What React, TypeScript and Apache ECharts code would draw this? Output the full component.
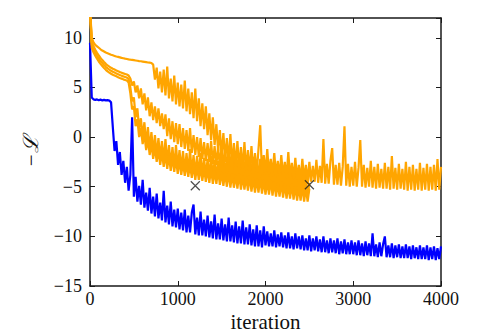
import React, { useEffect, useRef } from 'react';
import * as echarts from 'echarts';

// iteration spacing of the sampled values
const STEP = 20;

// blue run: 0..4000 (201 samples)
const blueRun = [
  9.5, 4.0, 3.8, 3.75, 3.8, 3.72, 3.78, 3.7, 3.75, 3.7,
  3.72, 3.68, 3.5, 1.0, -1.4, -0.4, -2.8, -1.5, -3.8, -2.4,
  -4.6, -3.0, -5.4, -3.8, 2.0, -6.0, -4.0, -6.5, -4.9, -6.8,
  -4.3, -7.1, -5.6, -7.4, -5.1, -7.7, -6.0, -8.0, -5.7, -8.2,
  -6.6, -8.4, -5.4, -8.6, -6.9, -8.8, -6.5, -9.0, -7.3, -9.1,
  -7.2, -9.3, -7.6, -9.4, -7.3, -9.6, -7.9, -9.6, -7.6, -6.8,
  -9.8, -8.1, -9.9, -7.5, -9.9, -8.3, -10.0, -7.9, -10.1, -8.5,
  -10.2, -7.8, -10.3, -8.7, -10.3, -8.2, -10.4, -8.8, -10.5, -8.1,
  -10.5, -8.9, -10.6, -8.5, -10.7, -9.0, -10.7, -8.4, -10.8, -9.1,
  -10.8, -8.8, -10.9, -9.3, -11.0, -8.9, -11.0, -9.4, -11.1, -9.0,
  -10.9, -9.5, -11.0, -9.7, -11.0, -9.4, -11.1, -9.8, -11.0, -9.6,
  -11.1, -9.9, -11.2, -9.6, -11.2, -10.0, -11.3, -9.7, -11.2, -10.0,
  -11.3, -9.9, -11.4, -10.2, -11.4, -9.9, -11.5, -10.2, -11.4, -10.0,
  -11.5, -10.3, -11.6, -10.0, -11.6, -10.4, -11.7, -10.2, -11.6, -10.4,
  -11.7, -10.2, -11.8, -10.5, -11.7, -10.3, -11.8, -10.6, -11.8, -10.4,
  -11.8, -10.6, -11.9, -10.4, -11.9, -10.7, -12.0, -10.5, -11.9, -10.7,
  -12.0, -9.7, -12.0, -10.8, -12.1, -10.6, -12.0, -10.8, -10.0, -12.1,
  -10.9, -12.1, -10.7, -12.2, -10.9, -12.1, -10.8, -12.2, -11.0, -12.2,
  -10.8, -12.2, -11.0, -12.3, -10.9, -12.2, -11.1, -12.3, -10.9, -12.3,
  -11.1, -12.3, -10.9, -12.4, -11.1, -12.3, -11.0, -12.4, -11.2, -12.3,
  -11.0,
];

// orange run that continues to 4000 (201 samples)
const orangeLong = [
  13, 10.0, 9.55, 9.3, 9.15, 9.0, 8.85, 8.72, 8.62, 8.52,
  8.45, 8.38, 8.3, 8.24, 8.18, 8.12, 8.08, 8.03, 7.98, 7.94,
  7.9, 7.87, 7.83, 7.8, 7.78, 7.75, 7.72, 7.69, 7.66, 7.64,
  7.61, 7.58, 7.55, 7.52, 7.5, 7.47, 7.3, 5.8, 7.0, 4.9,
  6.6, 4.5, 6.8, 4.2, 7.1, 3.9, 5.9, 3.6, 6.2, 3.3,
  5.5, 3.1, 5.3, 2.9, 5.7, 2.6, 4.9, 2.3, 4.5, 1.9,
  4.9, 1.6, 3.9, 1.1, 3.4, 0.8, 3.1, 0.2, 2.4, -0.3,
  2.0, -0.8, 1.3, -1.4, 0.7, -1.9, 0.4, -2.3, -0.1, -2.6,
  0.3, -2.9, -0.6, -3.0, -0.4, -3.2, -1.0, -3.3, -0.5, -3.4,
  -1.3, -3.5, -0.9, -3.6, -1.6, -3.7, -1.2, 1.2, -3.8, -1.8,
  -3.7, -1.2, -3.7, -2.2, -3.8, -1.6, -3.9, -2.4, -3.9, -1.8,
  -4.0, -2.5, -4.1, -1.5, -4.1, -2.6, -4.2, -2.1, -4.2, -2.8,
  -4.3, -2.2, -4.3, -2.8, -4.4, -2.5, -4.5, -2.9, -4.5, -2.3,
  -4.6, -2.9, -4.6, -0.2, -4.7, -2.7, -4.7, -2.4, -1.1, -4.8,
  -2.8, -4.8, -2.6, -4.9, -3.0, 1.1, -4.9, -2.7, -5.0, -3.0,
  -4.9, -2.5, -5.0, -3.1, -0.3, -5.0, -2.8, -5.1, -3.1, -5.0,
  -2.4, -5.1, -3.0, -5.2, -2.7, -5.1, -3.2, -5.2, -2.6, -5.2,
  -3.0, -5.3, -1.9, -5.2, -3.1, -5.3, -2.7, -5.2, -3.2, -5.3,
  -2.5, -5.4, -3.0, -5.3, -2.8, -5.4, -3.2, -5.3, -2.6, -5.4,
  -3.1, -5.3, -2.7, -5.4, -3.0, -5.3, -2.8, -5.4, -2.2, -5.3,
  -3.0,
];

// three orange runs stopping at 2500 (126 samples each)
const orangeShort1 = [
  13, 9.6, 9.15, 8.8, 8.5, 8.22, 7.98, 7.76, 7.56, 7.38,
  7.22, 7.1, 6.98, 6.88, 6.8, 6.72, 6.64, 6.56, 6.49, 6.42,
  6.36, 6.3, 6.2, 5.9, 5.2, 5.6, 4.5, 5.2, 3.9, 4.9,
  3.3, 4.4, 2.7, 4.0, 2.1, 3.5, 1.7, 3.1, 1.4, 2.9,
  1.1, 2.4, 0.8, 2.3, 0.1, 1.9, -0.2, 1.6, -0.5, 1.4,
  -0.7, 1.3, -1.0, 0.9, -1.2, 0.7, -1.4, 0.9, -1.6, 0.2,
  -1.8, 0.0, -2.0, -0.1, -2.2, -0.5, -2.4, -0.6, -2.5, -0.4,
  -2.7, -0.9, -2.8, -1.0, -3.0, -0.8, -3.1, -1.3, -3.2, -1.4,
  -3.3, -1.2, -3.4, -1.7, -3.5, -1.6, -3.6, -1.9, -3.7, -1.8,
  -3.8, -2.1, -3.9, -2.0, -4.0, -2.3, -4.1, -2.2, -4.2, -2.5,
  -3.9, -2.4, -4.0, -2.7, -4.1, -2.6, -4.2, -2.8, -4.2, -2.7,
  -4.3, -3.0, -4.4, -2.9, -4.4, -3.1, -4.5, -3.0, -4.5, -3.2,
  -4.6, -3.1, -4.7, -3.3, -4.7, -3.6,
];

const orangeShort2 = [
  13, 9.3, 8.85, 8.5, 8.2, 7.92, 7.68, 7.46, 7.26, 7.08,
  6.92, 6.8, 6.68, 6.58, 6.5, 6.42, 6.34, 6.26, 6.19, 6.12,
  6.06, 6.0, 5.85, 5.0, 3.6, 4.0, 2.0, 2.9, 0.8, 1.9,
  0.0, 1.5, -0.7, 1.0, -1.2, 0.5, -1.6, 0.2, -1.9, -0.1,
  -2.2, -0.4, -2.5, -0.2, -2.7, -0.8, -2.9, -1.0, -3.1, -0.8,
  -3.2, -1.3, -3.3, -1.4, -3.5, -1.6, -3.6, -1.2, -3.7, -1.8,
  -3.8, -1.9, -3.9, -1.6, -4.0, -2.1, -4.0, -2.2, -4.1, -1.9,
  -4.2, -2.3, -4.2, -2.4, -4.3, -2.1, -4.4, -2.6, -4.4, -2.5,
  -4.5, -2.7, -4.6, -2.6, -4.6, -2.8, -4.7, -2.7, -4.8, -3.0,
  -4.9, -2.9, -4.9, -3.1, -5.0, -3.0, -5.1, -3.2, -5.1, -3.1,
  -5.2, -3.3, -5.3, -3.4, -5.3, -3.3, -5.4, -3.6, -5.5, -3.5,
  -5.5, -3.7, -5.6, -3.6, -5.7, -3.8, -5.7, -3.7, -5.8, -3.9,
  -5.8, -3.8, -5.9, -4.0, -6.0, -4.6,
];

const orangeShort3 = [
  13, 9.0, 8.55, 8.2, 7.9, 7.62, 7.38, 7.16, 6.96, 6.78,
  6.62, 6.5, 6.38, 6.28, 6.2, 6.12, 6.04, 5.96, 5.89, 5.82,
  5.76, 5.7, 5.5, 4.4, 2.8, 3.1, 1.1, 1.8, 0.0, 0.9,
  -0.7, 0.3, -1.3, -0.2, -1.8, -0.6, -2.2, -1.0, -2.5, -1.3,
  -2.8, -1.5, -3.0, -1.7, -3.2, -1.9, -3.4, -2.0, -3.5, -2.2,
  -3.7, -2.3, -3.8, -2.5, -3.9, -2.6, -4.0, -2.7, -4.1, -2.8,
  -4.3, -2.9, -4.3, -3.0, -4.4, -3.1, -4.5, -3.2, -4.6, -3.1,
  -4.7, -3.4, -4.7, -3.3, -4.8, -3.5, -4.9, -3.6, -5.0, -3.5,
  -5.1, -3.7, -5.1, -3.8, -5.2, -3.7, -5.3, -3.9, -5.3, -4.0,
  -5.4, -3.9, -5.5, -4.1, -5.6, -4.2, -5.6, -4.1, -5.7, -4.3,
  -5.8, -4.4, -5.8, -4.3, -5.9, -4.5, -6.0, -4.6, -6.0, -4.5,
  -6.1, -4.7, -6.2, -4.8, -6.2, -4.7, -6.3, -4.9, -6.4, -5.0,
  -6.4, -4.9, -6.5, -5.1, -6.5, -5.2,
];

const markerIters = [1200, 2500];
const markerValues = [-4.9, -4.8];

const X_MIN = 0;
const X_MAX = 4000;
const X_INTERVAL = 1000;
const Y_MIN = -15;
const Y_MAX = 12;
const Y_INTERVAL = 5;

const FONT = '"Liberation Serif", "DejaVu Serif", serif';
const AXIS_COLOR = '#1a1a1a';

const toPairs = (vals: number[]) => vals.map((v, i) => [i * STEP, v]);
const fmt = (v: number) => (v < 0 ? '\u2212' + Math.abs(v) : String(v));

export default function App() {
  const ref = useRef<HTMLDivElement>(null);

  useEffect(() => {
    if (!ref.current) return;
    const chart = echarts.init(ref.current, undefined, { renderer: 'svg' });

    const lineSeries = (data: number[], color: string) => ({
      type: 'line',
      data: toPairs(data),
      showSymbol: false,
      symbol: 'none',
      silent: true,
      lineStyle: { color, width: 2.2 },
      clip: true,
    });

    const tickCommon = {
      show: true,
      inside: true,
      length: 5,
      lineStyle: { color: AXIS_COLOR, width: 1 },
    };
    const lineCommon = {
      show: true,
      onZero: false,
      lineStyle: { color: AXIS_COLOR, width: 1.5 },
    };

    chart.setOption({
      animation: false,
      grid: {
        left: 90,
        right: 38,
        top: 18,
        bottom: 48,
        containLabel: false,
        outerBoundsMode: 'none',
      },
      xAxis: [
        {
          type: 'value',
          min: X_MIN,
          max: X_MAX,
          interval: X_INTERVAL,
          name: 'iteration',
          nameLocation: 'middle',
          nameGap: 25,
          nameMoveOverlap: false,
          nameTextStyle: { fontFamily: FONT, fontSize: 21, color: '#111', lineHeight: 21 },
          axisLine: lineCommon,
          axisTick: tickCommon,
          axisLabel: {
            fontFamily: FONT,
            fontSize: 18,
            lineHeight: 16,
            color: '#111',
            margin: 5,
            formatter: (v: number) => fmt(v),
          },
          splitLine: { show: false },
        },
        {
          type: 'value',
          position: 'top',
          min: X_MIN,
          max: X_MAX,
          interval: X_INTERVAL,
          axisLine: lineCommon,
          axisTick: tickCommon,
          axisLabel: { show: false },
          splitLine: { show: false },
        },
      ],
      yAxis: [
        {
          type: 'value',
          min: Y_MIN,
          max: Y_MAX,
          interval: Y_INTERVAL,
          name: '\u2212\u2112',
          nameLocation: 'middle',
          nameRotate: 90,
          nameGap: 49,
          nameMoveOverlap: false,
          nameTextStyle: { fontFamily: FONT, fontSize: 21, color: '#111', fontStyle: 'italic' },
          axisLine: lineCommon,
          axisTick: tickCommon,
          axisLabel: {
            fontFamily: FONT,
            fontSize: 18,
            color: '#111',
            margin: 8,
            showMaxLabel: false,
            formatter: (v: number) => (v > 10 ? '' : fmt(v)),
          },
          splitLine: { show: false },
        },
        {
          type: 'value',
          position: 'right',
          min: Y_MIN,
          max: Y_MAX,
          interval: Y_INTERVAL,
          axisLine: lineCommon,
          axisTick: tickCommon,
          axisLabel: { show: false },
          splitLine: { show: false },
        },
      ],
      series: [
        lineSeries(blueRun, '#0000ff'),
        lineSeries(orangeShort1, '#ffa500'),
        lineSeries(orangeShort2, '#ffa500'),
        lineSeries(orangeShort3, '#ffa500'),
        lineSeries(orangeLong, '#ffa500'),
        {
          type: 'scatter',
          data: markerIters.map((x, i) => [x, markerValues[i]]),
          symbol: 'path://M0 0L10 10M10 0L0 10',
          symbolSize: 9,
          silent: true,
          itemStyle: { color: 'rgba(0,0,0,0)', borderColor: '#222', borderWidth: 1.2 },
          z: 10,
        },
      ],
    });

    return () => chart.dispose();
  }, []);

  return (
    <div
      ref={ref}
      style={{ position: 'fixed', left: 0, top: 0, width: 479, height: 334, background: '#fff' }}
    />
  );
}
